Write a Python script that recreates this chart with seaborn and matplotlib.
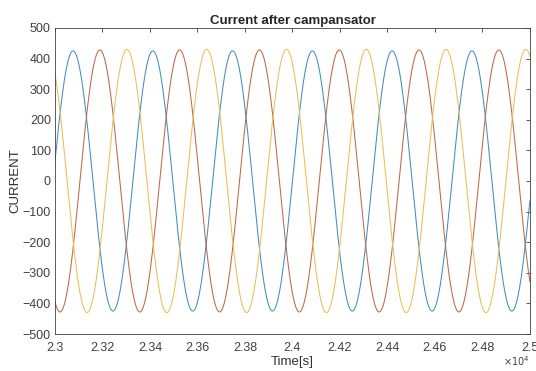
import numpy as np
import pandas as pd
import seaborn as sns
from matplotlib import pyplot as plt

# values
phases = ['Ia', 'Ib', 'Ic']
amplitudes = [425, 428, 430]          # peak current of each phase
peak_times = [23076, 23189, 23303]    # time of a first peak [x1e4 s axis units]
period = 336                          # one cycle, same for all phases
t_start, t_end = 23000, 25000
colors = ['#3f8fc2', '#bd6849', '#e9bf57']

xticks = [23000, 23200, 23400, 23600, 23800, 24000, 24200, 24400, 24600, 24800, 25000]
xticklabels = ['2.3', '2.32', '2.34', '2.36', '2.38', '2.4', '2.42', '2.44', '2.46', '2.48', '2.5']
yticks = [-500, -400, -300, -200, -100, 0, 100, 200, 300, 400, 500]

t = np.linspace(t_start, t_end, 4001)
frames = []
for ph, a, tp in zip(phases, amplitudes, peak_times):
    frames.append(pd.DataFrame({'time': t,
                                'current': a * np.cos(2 * np.pi * (t - tp) / period),
                                'phase': ph}))
df = pd.concat(frames)

sns.set_style('white')
plt.rcParams['font.family'] = ['Liberation Sans', 'DejaVu Sans']

fig = plt.figure(figsize=(5.36, 3.71), dpi=100)
ax = fig.add_axes([0.1026, 0.0997, 0.886, 0.825])
sns.lineplot(data=df, x='time', y='current', hue='phase', palette=colors,
             linewidth=0.75, legend=False, ax=ax, estimator=None)

ax.set_xlim(t_start, t_end)
ax.set_ylim(-500, 500)
ax.set_xticks(xticks)
ax.set_xticklabels(xticklabels)
ax.set_yticks(yticks)
ax.tick_params(direction='in', length=3, top=True, right=True, labelsize=9,
               colors='#404040', width=0.6, pad=3)
ax.tick_params(axis='x', pad=6)
for s in ax.spines.values():
    s.set_color('#404040')
    s.set_linewidth(0.6)
    s.set_visible(True)

ax.set_xlabel('Time[s]', fontsize=9.5, color='#303030', labelpad=1)
ax.set_ylabel('CURRENT', fontsize=9.5, color='#303030', labelpad=1)
ax.set_title('Current after campansator', fontsize=9.5, fontweight='bold', pad=3)
ax.text(1.0, -0.11, r'$\times10^4$', transform=ax.transAxes, fontsize=7,
        ha='right', va='bottom', color='#404040')

fig.savefig('out.png', dpi=100, facecolor='white')
